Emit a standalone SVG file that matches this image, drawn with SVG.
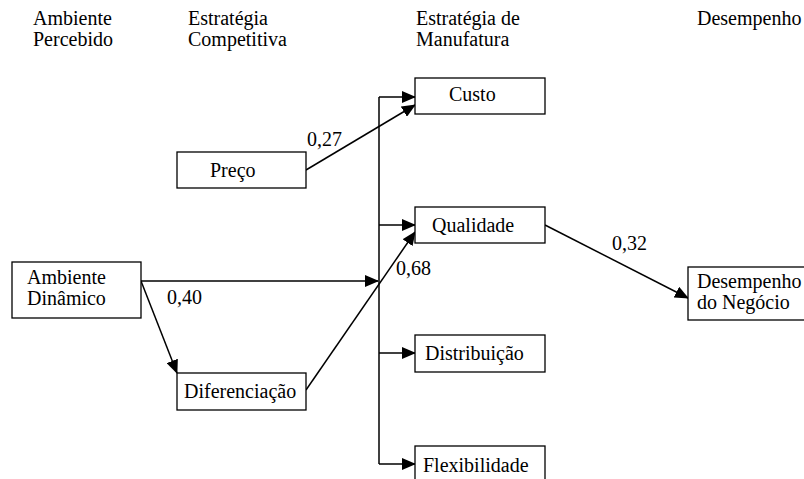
<svg xmlns="http://www.w3.org/2000/svg" width="804" height="479" viewBox="0 0 804 479">
<defs>
<style>
text{font-family:'Liberation Serif','Times New Roman',Times,serif;font-size:20px;fill:#000}
.box{fill:#fff;stroke:#000;stroke-width:1.3}
.ln{fill:none;stroke:#000;stroke-width:1.5}
</style>
<marker id="ah" markerUnits="userSpaceOnUse" markerWidth="14" markerHeight="12" refX="13" refY="6" orient="auto">
<path d="M0,0 L14,6 L0,12 Z" fill="#000"/>
</marker>
</defs>
<rect width="804" height="479" fill="#fff"/>
<g font-family="Liberation Serif, serif">
<g id="headers">
<text x="33" y="25">Ambiente</text>
<text x="33" y="46">Percebido</text>
<text x="188" y="25">Estratégia</text>
<text x="188" y="46">Competitiva</text>
<text x="416" y="25">Estratégia de</text>
<text x="416" y="46">Manufatura</text>
<text x="697" y="25">Desempenho</text>
</g>
<g id="connectors">
<line class="ln" x1="379" y1="97" x2="379" y2="464"/>
<line class="ln" x1="379" y1="97" x2="415" y2="97" marker-end="url(#ah)"/>
<line class="ln" x1="379" y1="225" x2="415" y2="225" marker-end="url(#ah)"/>
<line class="ln" x1="379" y1="353" x2="415" y2="353" marker-end="url(#ah)"/>
<line class="ln" x1="379" y1="464" x2="415" y2="464" marker-end="url(#ah)"/>
<line class="ln" x1="141" y1="281" x2="378" y2="281" marker-end="url(#ah)"/>
<line class="ln" x1="141" y1="281" x2="177" y2="373" marker-end="url(#ah)"/>
<line class="ln" x1="306" y1="390" x2="415" y2="232" marker-end="url(#ah)"/>
<line class="ln" x1="306" y1="170" x2="415" y2="105" marker-end="url(#ah)"/>
<line class="ln" x1="545" y1="225" x2="688" y2="298" marker-end="url(#ah)"/>
<text x="307" y="146">0,27</text>
<text x="167" y="304">0,40</text>
<text x="396" y="275">0,68</text>
<text x="612" y="250">0,32</text>
</g>
<g id="ambiente-dinamico">
<rect class="box" x="12" y="262" width="129" height="56"/>
<text x="27" y="284">Ambiente</text>
<text x="27" y="305">Dinâmico</text>
</g>
<g id="preco">
<rect class="box" x="177" y="152" width="129" height="36"/>
<text x="210" y="177">Preço</text>
</g>
<g id="diferenciacao">
<rect class="box" x="177" y="373" width="129" height="37"/>
<text x="184" y="398">Diferenciação</text>
</g>
<g id="custo">
<rect class="box" x="415" y="78" width="130" height="36"/>
<text x="449" y="101">Custo</text>
</g>
<g id="qualidade">
<rect class="box" x="415" y="207" width="130" height="36"/>
<text x="432" y="232">Qualidade</text>
</g>
<g id="distribuicao">
<rect class="box" x="415" y="335" width="130" height="37"/>
<text x="425" y="360">Distribuição</text>
</g>
<g id="flexibilidade">
<rect class="box" x="415" y="446" width="130" height="50"/>
<text x="423" y="472">Flexibilidade</text>
</g>
<g id="desempenho-negocio">
<rect class="box" x="688" y="267" width="130" height="53"/>
<text x="697" y="288">Desempenho</text>
<text x="697" y="309">do Negócio</text>
</g>
</g>
</svg>
